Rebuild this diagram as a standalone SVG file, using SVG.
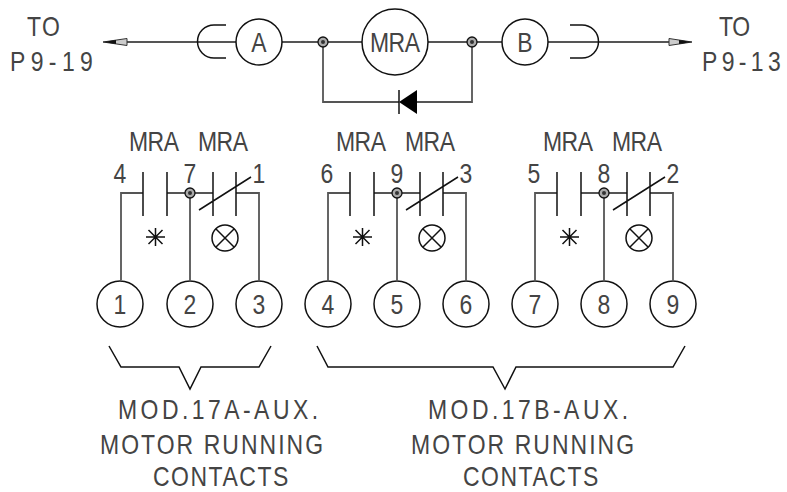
<svg xmlns="http://www.w3.org/2000/svg" width="787" height="492" viewBox="0 0 787 492">
<style>
text{font-family:"Liberation Sans",Arial,sans-serif;font-size:28px;fill:#444}
.m{text-anchor:middle}
.w{fill:none;stroke:#555;stroke-width:1.8}
.k{fill:none;stroke:#111;stroke-width:1.5}
.c{fill:#fff;stroke:#111;stroke-width:1.5}
.d{fill:#aaa;stroke:#111;stroke-width:1.3}
.a{fill:#ccc;stroke:#333;stroke-width:1}
</style>
<defs>
<g id="contact"><path class="k" d="M143 172V216M167 172V216M213 172V216M236 172V216M199 210L251 177"/><path class="k" d="M146 237H165M155.500 228V246M148.500 230L162.500 244M162.500 230L148.500 244"/><circle class="k" cx="225" cy="238" r="13"/><path class="k" d="M216 229L234 247M234 229L216 247"/></g>
<g id="dot"><circle r="5" class="d"/><circle r="2" fill="#333"/></g>
</defs>
<rect width="787" height="492" fill="#fff"/>
<g id="connectors">
<path class="w" d="M127 42H236M282 42H362M428 42H502M548 42H669M323 42V102H399M417 102H472V42"/>
<path class="w" d="M121 280V193H143M167 193H213M236 193H259V280M190 193V280"/>
<path class="w" d="M328 280V193H350M374 193H420M443 193H466V280M397 193V280"/>
<path class="w" d="M535 280V193H557M581 193H627M650 193H673V280M604 193V280"/>
<path class="k" d="M226 25H214A16.500 16.500 0 0 0 214 58H226"/>
<path class="k" d="M570 25H582A16.500 16.500 0 0 1 582 58H570"/>
<path class="k" d="M109 346L121 367H179L190 389L201 367H259L271 346"/>
<path class="k" d="M317 346L328 367H493L505 389L516 367H673L685 346"/>
<path class="a" d="M103 42L127 38.500V45.500Z"/><path d="M103 42L116 40V44Z" fill="#111"/>
<path class="a" d="M692 42L669 38.500V45.500Z"/><path d="M692 42L679 40V44Z" fill="#111"/>
</g>
<g id="label-left"><text transform="translate(27 36) scale(.82 1)" textLength="40">TO</text><text transform="translate(10 71) scale(.82 1)" textLength="101">P9-19</text></g>
<g id="label-right"><text transform="translate(719 36) scale(.82 1)" textLength="38">TO</text><text transform="translate(702 71) scale(.82 1)" textLength="96">P9-13</text></g>
<g id="node-a"><circle class="c" cx="259" cy="42" r="23"/><text class="m" transform="translate(259 52) scale(.82 1)">A</text></g>
<g id="node-mra"><circle class="c" cx="395" cy="42" r="33"/><text transform="translate(370 52) scale(.82 1)" textLength="61">MRA</text></g>
<g id="node-b"><circle class="c" cx="525" cy="42" r="23"/><text class="m" transform="translate(525 52) scale(.82 1)">B</text></g>
<g id="junction-top"><use href="#dot" x="323" y="42"/><use href="#dot" x="472" y="42"/></g>
<g id="diode"><path d="M417 90V114L399 102Z" fill="#000"/><path class="k" d="M399 90V114"/></g>
<g id="contacts-1"><use href="#contact"/><use href="#dot" x="190" y="193"/>
<text transform="translate(129 151) scale(.82 1)" textLength="61">MRA</text><text transform="translate(198 151) scale(.82 1)" textLength="61">MRA</text>
<text class="m" transform="translate(120 183) scale(.82 1)">4</text><text class="m" transform="translate(190 183) scale(.82 1)">7</text><text class="m" transform="translate(259 183) scale(.82 1)">1</text></g>
<g id="contacts-2"><use href="#contact" x="207"/><use href="#dot" x="397" y="193"/>
<text transform="translate(336 151) scale(.82 1)" textLength="61">MRA</text><text transform="translate(405 151) scale(.82 1)" textLength="61">MRA</text>
<text class="m" transform="translate(327 183) scale(.82 1)">6</text><text class="m" transform="translate(397 183) scale(.82 1)">9</text><text class="m" transform="translate(466 183) scale(.82 1)">3</text></g>
<g id="contacts-3"><use href="#contact" x="414"/><use href="#dot" x="604" y="193"/>
<text transform="translate(543 151) scale(.82 1)" textLength="61">MRA</text><text transform="translate(612 151) scale(.82 1)" textLength="61">MRA</text>
<text class="m" transform="translate(534 183) scale(.82 1)">5</text><text class="m" transform="translate(604 183) scale(.82 1)">8</text><text class="m" transform="translate(673 183) scale(.82 1)">2</text></g>
<g id="terminal-1"><circle class="c" cx="120" cy="304" r="23"/><text class="m" transform="translate(120 314) scale(.82 1)">1</text></g>
<g id="terminal-2"><circle class="c" cx="190" cy="304" r="23"/><text class="m" transform="translate(190 314) scale(.82 1)">2</text></g>
<g id="terminal-3"><circle class="c" cx="259" cy="304" r="23"/><text class="m" transform="translate(259 314) scale(.82 1)">3</text></g>
<g id="terminal-4"><circle class="c" cx="328" cy="304" r="23"/><text class="m" transform="translate(328 314) scale(.82 1)">4</text></g>
<g id="terminal-5"><circle class="c" cx="397" cy="304" r="23"/><text class="m" transform="translate(397 314) scale(.82 1)">5</text></g>
<g id="terminal-6"><circle class="c" cx="466" cy="304" r="23"/><text class="m" transform="translate(466 314) scale(.82 1)">6</text></g>
<g id="terminal-7"><circle class="c" cx="535" cy="304" r="23"/><text class="m" transform="translate(535 314) scale(.82 1)">7</text></g>
<g id="terminal-8"><circle class="c" cx="604" cy="304" r="23"/><text class="m" transform="translate(604 314) scale(.82 1)">8</text></g>
<g id="terminal-9"><circle class="c" cx="673" cy="304" r="23"/><text class="m" transform="translate(673 314) scale(.82 1)">9</text></g>
<g id="caption-a"><text transform="translate(118 419) scale(.82 1)" textLength="244">MOD.17A-AUX.</text><text transform="translate(100 454) scale(.82 1)" textLength="272">MOTOR RUNNING</text><text transform="translate(153 486) scale(.82 1)" textLength="165">CONTACTS</text></g>
<g id="caption-b"><text transform="translate(428 419) scale(.82 1)" textLength="244">MOD.17B-AUX.</text><text transform="translate(411 454) scale(.82 1)" textLength="272">MOTOR RUNNING</text><text transform="translate(463 486) scale(.82 1)" textLength="165">CONTACTS</text></g>
</svg>
